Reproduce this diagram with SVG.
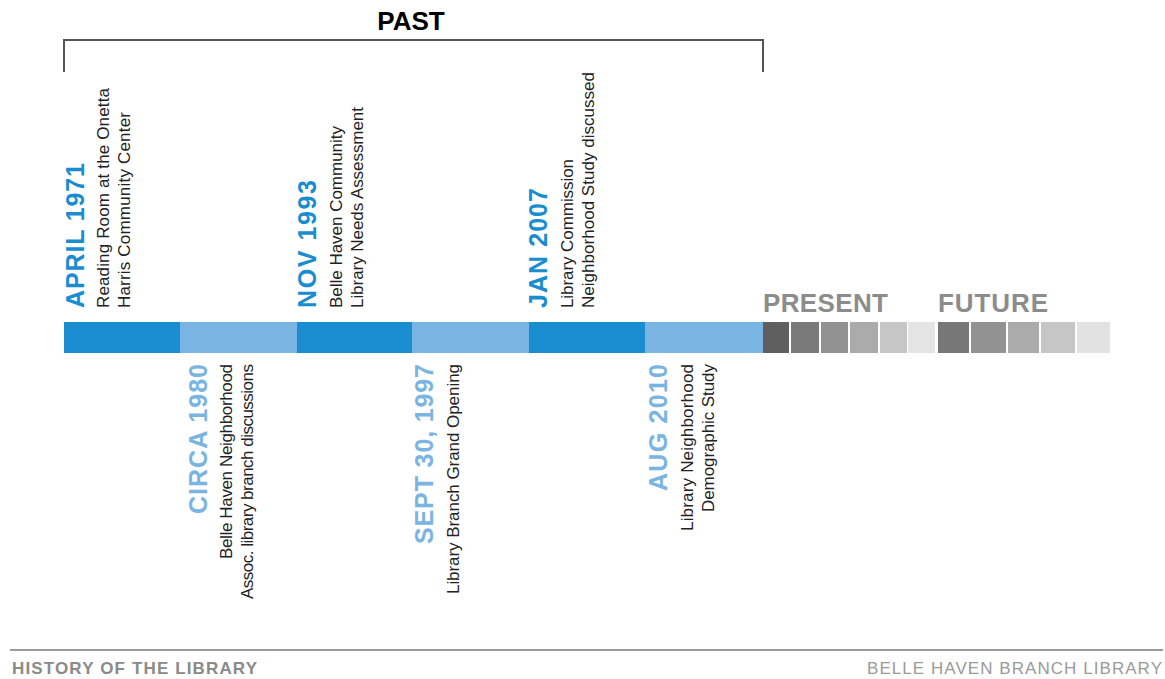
<svg xmlns="http://www.w3.org/2000/svg" width="1165" height="679" viewBox="0 0 1165 679">
<style>
.date{font-family:"Liberation Sans",Arial,sans-serif;font-weight:bold;font-size:25px;}
.d1{fill:#1a8dd0;}
.d2{fill:#7ab4e2;}
.body{font-family:"Liberation Sans",Arial,sans-serif;font-size:17px;fill:#222;}
.hdr{font-family:"Liberation Sans",Arial,sans-serif;font-weight:bold;font-size:26px;}
.seg1{fill:#1a8dd0;}
.seg2{fill:#7ab4e2;}
</style>
<rect width="1165" height="679" fill="#fff"/>
<g id="past-bracket">
<path d="M64,72 V40 H763 V72" fill="none" stroke="#555" stroke-width="2"/>
<text class="hdr" x="411" y="30" text-anchor="middle" fill="#000">PAST</text>
</g>
<g id="timeline-bar">
<rect class="seg1" x="64" y="322" width="116" height="31"/>
<rect class="seg2" x="180" y="322" width="117" height="31"/>
<rect class="seg1" x="297" y="322" width="115" height="31"/>
<rect class="seg2" x="412" y="322" width="117" height="31"/>
<rect class="seg1" x="529" y="322" width="116" height="31"/>
<rect class="seg2" x="645" y="322" width="118" height="31"/>
</g>
<g id="present">
<text class="hdr" x="763" y="312" fill="#8c8c8c" textLength="125">PRESENT</text>
<rect x="763" y="322" width="26" height="31" fill="#5f5f5f"/>
<rect x="791" y="322" width="28" height="31" fill="#7a7a7a"/>
<rect x="821" y="322" width="27" height="31" fill="#929292"/>
<rect x="850" y="322" width="28" height="31" fill="#ababab"/>
<rect x="880" y="322" width="27" height="31" fill="#c6c6c6"/>
<rect x="908" y="322" width="27" height="31" fill="#e4e4e4"/>
</g>
<g id="future">
<text class="hdr" x="938" y="312" fill="#8c8c8c" textLength="110">FUTURE</text>
<rect x="938" y="322" width="31" height="31" fill="#777777"/>
<rect x="971" y="322" width="35" height="31" fill="#929292"/>
<rect x="1008" y="322" width="31" height="31" fill="#ababab"/>
<rect x="1041" y="322" width="34" height="31" fill="#c6c6c6"/>
<rect x="1077" y="322" width="33" height="31" fill="#e2e2e2"/>
</g>
<g id="connectors"></g>
<g id="event-1971">
<text class="date d1" transform="translate(84,308) rotate(-90)" textLength="145">APRIL 1971</text>
<text class="body" transform="translate(109,308) rotate(-90)" textLength="220">Reading Room at the Onetta</text>
<text class="body" transform="translate(130,308) rotate(-90)" textLength="196">Harris Community Center</text>
</g>
<g id="event-1980">
<text class="date d2" transform="translate(207,364) rotate(-90)" text-anchor="end" textLength="150">CIRCA 1980</text>
<text class="body" transform="translate(232,364) rotate(-90)" text-anchor="end" textLength="195">Belle Haven Neighborhood</text>
<text class="body" transform="translate(253,364) rotate(-90)" text-anchor="end" textLength="235">Assoc. library branch discussions</text>
</g>
<g id="event-1993">
<text class="date d1" transform="translate(316,308) rotate(-90)" textLength="128">NOV 1993</text>
<text class="body" transform="translate(342,308) rotate(-90)" textLength="182">Belle Haven Community</text>
<text class="body" transform="translate(363,308) rotate(-90)" textLength="201">Library Needs Assessment</text>
</g>
<g id="event-1997">
<text class="date d2" transform="translate(433,364) rotate(-90)" text-anchor="end" textLength="180">SEPT 30, 1997</text>
<text class="body" transform="translate(459,364) rotate(-90)" text-anchor="end" textLength="230">Library Branch Grand Opening</text>
</g>
<g id="event-2007">
<text class="date d1" transform="translate(547,308) rotate(-90)" textLength="120">JAN 2007</text>
<text class="body" transform="translate(573,308) rotate(-90)" textLength="149">Library Commission</text>
<text class="body" transform="translate(594,308) rotate(-90)" textLength="236">Neighborhood Study discussed</text>
</g>
<g id="event-2010">
<text class="date d2" transform="translate(667,364) rotate(-90)" text-anchor="end" textLength="127">AUG 2010</text>
<text class="body" transform="translate(693,364) rotate(-90)" text-anchor="end" textLength="167">Library Neighborhood</text>
<text class="body" transform="translate(714,364) rotate(-90)" text-anchor="end" textLength="148">Demographic Study</text>
</g>
<g id="footer">
<line x1="10" y1="650" x2="1163" y2="650" stroke="#9a9a9a" stroke-width="2"/>
<text x="12" y="674" font-family="'Liberation Sans',Arial,sans-serif" font-weight="bold" font-size="17" fill="#8a8a8a" textLength="245">HISTORY OF THE LIBRARY</text>
<text x="1162" y="674" text-anchor="end" font-family="'Liberation Sans',Arial,sans-serif" font-size="17" fill="#9a9a9a" textLength="295">BELLE HAVEN BRANCH LIBRARY</text>
</g>
</svg>
